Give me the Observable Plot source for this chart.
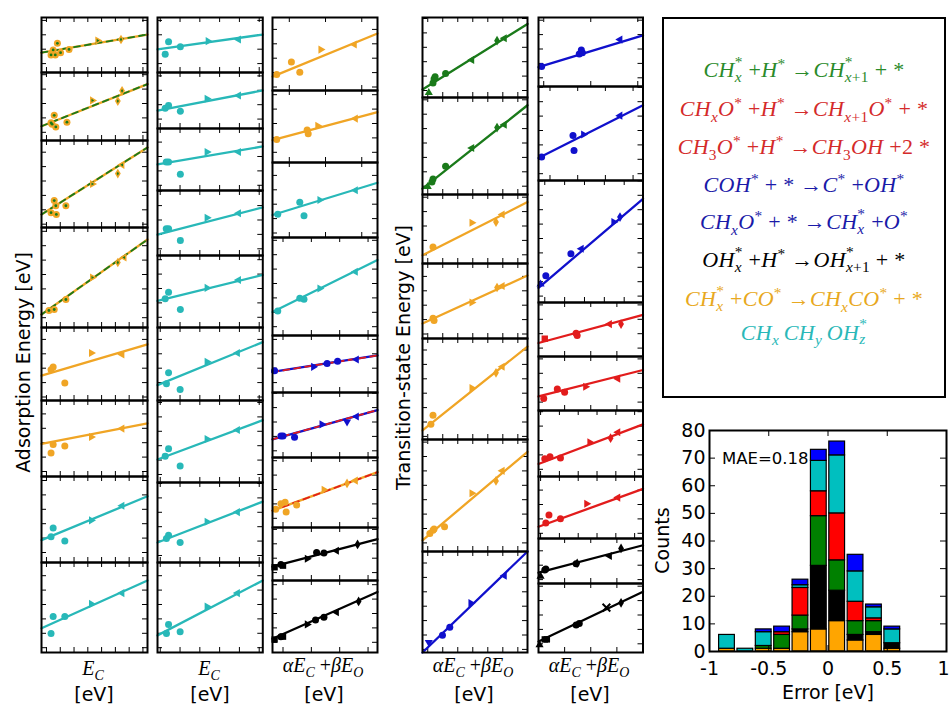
<!DOCTYPE html>
<html><head><meta charset="utf-8">
<script src="https://cdn.jsdelivr.net/npm/d3@7"></script>
<script src="https://cdn.jsdelivr.net/npm/@observablehq/plot@0.6"></script>
<style>
body{margin:0;background:#fff;}
#root{position:relative;width:950px;height:706px;overflow:hidden;font-family:"DejaVu Sans",sans-serif;background:#fff;}
.leg{position:absolute;left:662px;top:17px;width:280px;height:377px;border:2px solid #000;}
.eq{position:absolute;left:0;width:950px;text-align:center;font-family:"Liberation Serif",serif;font-style:italic;font-size:22px;letter-spacing:0.3px;white-space:nowrap;}
.eq .u{font-style:normal;}
.st{display:inline-block;vertical-align:-0.3em;line-height:1;font-size:0.7em;text-align:left;}
.st>span{display:block;}
.eq sub,.eq sup{font-size:0.7em;}
.math{font-family:"Liberation Serif",serif;font-style:italic;}
.math .u{font-style:normal;}
</style></head><body><div id="root"></div>
<script>
// ---------------- DATA ----------------
// reaction groups
const groupNames = ["CH", "CHO", "COH", "CHxO", "OH", "CO", "CCO"];
// Adsorption energies vs E_C, column 1 (fit line: value at left / right edge, points [x, y, marker])
const adsEC1 = [
 {s:"CO", d:"CH", f:[0.36,0.69], p:[[0.09,0.32,"o"],[0.11,0.41,"o"],[0.15,0.53,"o"],[0.13,0.32,"o"],[0.18,0.36,"o"],[0.26,0.42,"o"],[0.53,0.58,">"],[0.75,0.60,"d"]]},
 {s:"CO", d:"CH", f:[0.21,0.83], p:[[0.09,0.26,"o"],[0.12,0.37,"o"],[0.135,0.20,"o"],[0.10,0.24,"o"],[0.24,0.27,"o"],[0.48,0.59,">"],[0.72,0.58,"d"],[0.76,0.73,"d"]]},
 {s:"CO", d:"CH", f:[0.15,0.92], p:[[0.09,0.17,"o"],[0.12,0.31,"o"],[0.135,0.25,"o"],[0.14,0.15,"o"],[0.23,0.25,"o"],[0.48,0.50,">"],[0.72,0.62,"d"],[0.76,0.72,"<"]]},
 {s:"CO", d:"CH", f:[0.13,0.88], p:[[0.07,0.17,"o"],[0.12,0.18,"o"],[0.23,0.28,"o"],[0.48,0.50,">"],[0.72,0.65,"d"],[0.78,0.70,"<"]]},
 {s:"CO", f:[0.34,0.77], p:[[0.09,0.42,"o"],[0.11,0.46,"o"],[0.22,0.24,"o"],[0.47,0.65,">"],[0.76,0.63,"<"]]},
 {s:"CO", f:[0.43,0.70], p:[[0.09,0.31,"o"],[0.11,0.42,"o"],[0.22,0.40,"o"],[0.47,0.52,">"],[0.76,0.63,"<"]]},
 {s:"CCO", f:[0.26,0.77], p:[[0.09,0.30,"o"],[0.11,0.40,"o"],[0.22,0.25,"o"],[0.47,0.49,">"],[0.76,0.66,"<"]]},
 {s:"CCO", f:[0.27,0.80], p:[[0.09,0.21,"o"],[0.11,0.40,"o"],[0.22,0.40,"o"],[0.47,0.54,">"],[0.76,0.66,"<"]]}
];
// Adsorption energies vs E_C, column 2
const adsEC2 = [
 {s:"CCO", f:[0.42,0.69], p:[[0.105,0.56,"o"],[0.073,0.33,"o"],[0.217,0.47,"o"],[0.48,0.57,">"],[0.77,0.60,"<"]]},
 {s:"CCO", f:[0.32,0.68], p:[[0.073,0.36,"o"],[0.105,0.41,"o"],[0.217,0.31,"o"],[0.47,0.53,">"],[0.77,0.59,"<"]]},
 {s:"CCO", f:[0.42,0.71], p:[[0.083,0.46,"o"],[0.105,0.46,"o"],[0.217,0.26,"o"],[0.47,0.62,">"],[0.77,0.62,"<"]]},
 {s:"CCO", f:[0.32,0.74], p:[[0.083,0.41,"o"],[0.105,0.41,"o"],[0.217,0.23,"o"],[0.47,0.58,">"],[0.77,0.65,"<"]]},
 {s:"CCO", f:[0.37,0.73], p:[[0.073,0.40,"o"],[0.105,0.49,"o"],[0.217,0.25,"o"],[0.47,0.55,">"],[0.77,0.66,"<"]]},
 {s:"CCO", f:[0.21,0.80], p:[[0.085,0.23,"o"],[0.105,0.38,"o"],[0.215,0.15,"o"],[0.47,0.53,">"],[0.76,0.65,"<"]]},
 {s:"CCO", f:[0.28,0.76], p:[[0.073,0.32,"o"],[0.105,0.41,"o"],[0.215,0.20,"o"],[0.47,0.53,">"],[0.76,0.64,"<"]]},
 {s:"CCO", f:[0.25,0.76], p:[[0.085,0.30,"o"],[0.105,0.34,"o"],[0.215,0.25,"o"],[0.47,0.51,">"],[0.76,0.63,"<"]]},
 {s:"CCO", f:[0.19,0.80], p:[[0.085,0.21,"o"],[0.105,0.31,"o"],[0.215,0.23,"o"],[0.47,0.51,">"],[0.76,0.66,"<"]]}
];
// Adsorption energies vs alpha*E_C + beta*E_O
const adsMix = [
 {s:"CO", f:[0.19,0.78], p:[[0.04,0.22,"o"],[0.18,0.39,"o"],[0.26,0.25,"o"],[0.46,0.56,">"],[0.78,0.63,"<"]]},
 {s:"CO", f:[0.31,0.70], p:[[0.04,0.32,"o"],[0.33,0.45,"o"],[0.34,0.40,"o"],[0.43,0.51,">"],[0.79,0.61,"<"]]},
 {s:"CCO", f:[0.30,0.73], p:[[0.05,0.31,"o"],[0.26,0.47,"o"],[0.30,0.29,"o"],[0.45,0.50,">"],[0.79,0.63,"<"]]},
 {s:"CCO", f:[0.24,0.77], p:[[0.05,0.25,"o"],[0.26,0.38,"o"],[0.30,0.37,"o"],[0.45,0.48,">"],[0.79,0.65,"<"]]},
 {s:"CHxO", d:"CHO", f:[0.36,0.65], p:[[0.02,0.38,"o"],[0.39,0.45,">"],[0.52,0.51,"o"],[0.62,0.55,"o"],[0.80,0.58,"<"]]},
 {s:"CHxO", d:"CHO", f:[0.28,0.73], p:[[0.08,0.33,"o"],[0.10,0.33,"o"],[0.21,0.31,"o"],[0.47,0.51,">"],[0.71,0.55,"v"],[0.80,0.63,"<"]]},
 {s:"CO", d:"CHO", f:[0.24,0.79], p:[[0.03,0.26,"o"],[0.08,0.34,"o"],[0.12,0.36,"o"],[0.13,0.22,"o"],[0.23,0.32,"o"],[0.49,0.54,">"],[0.71,0.63,"d"],[0.79,0.67,"<"]]},
 {s:"OH", f:[0.26,0.78], p:[[0.02,0.25,"s"],[0.08,0.30,"o"],[0.10,0.28,"s"],[0.33,0.41,">"],[0.42,0.53,"o"],[0.49,0.52,"o"],[0.61,0.56,"<"],[0.81,0.68,"d"]]},
 {s:"OH", f:[0.19,0.84], p:[[0.02,0.18,"s"],[0.08,0.22,"o"],[0.10,0.22,"s"],[0.33,0.39,">"],[0.41,0.45,"o"],[0.49,0.49,"o"],[0.61,0.56,"<"],[0.82,0.71,"d"]]}
];
// Transition-state energies, column 1
const tsMix1 = [
 {s:"CH", f:[0.10,0.92], p:[[0.06,0.06,"^"],[0.10,0.18,"o"],[0.11,0.23,"o"],[0.12,0.26,"o"],[0.22,0.30,"o"],[0.47,0.47,"<"],[0.71,0.71,"d"],[0.78,0.74,"<"]]},
 {s:"CH", f:[0.06,0.92], p:[[0.05,0.08,"^"],[0.09,0.13,"o"],[0.10,0.16,"o"],[0.22,0.29,"o"],[0.47,0.48,"<"],[0.71,0.69,"d"],[0.78,0.72,"<"]]},
 {s:"CO", f:[0.12,0.89], p:[[0.10,0.24,"o"],[0.47,0.59,">"],[0.70,0.60,"d"],[0.76,0.71,"<"]]},
 {s:"CO", f:[0.20,0.84], p:[[0.10,0.27,"o"],[0.11,0.24,"o"],[0.47,0.48,">"],[0.71,0.68,"d"],[0.76,0.70,"<"]]},
 {s:"CO", f:[0.09,0.92], p:[[0.08,0.15,"o"],[0.10,0.24,"o"],[0.47,0.51,">"],[0.70,0.66,"d"],[0.76,0.72,"<"]]},
 {s:"CO", f:[0.10,0.89], p:[[0.07,0.16,"o"],[0.10,0.19,"o"],[0.11,0.20,"o"],[0.21,0.22,"o"],[0.47,0.52,">"],[0.70,0.63,"d"],[0.76,0.72,"<"]]},
 {s:"COH", f:[0.0,1.0], p:[[0.06,0.10,"v"],[0.19,0.17,"o"],[0.26,0.25,"o"],[0.46,0.49,">"],[0.78,0.76,"<"]]}
];
// Transition-state energies, column 2
const tsMix2 = [
 {s:"COH", f:[0.28,0.74], p:[[0.03,0.29,"o"],[0.39,0.47,"o"],[0.41,0.53,"o"],[0.42,0.49,"o"],[0.78,0.68,"<"]]},
 {s:"COH", f:[0.24,0.80], p:[[0.03,0.25,"o"],[0.33,0.48,"o"],[0.34,0.32,"o"],[0.43,0.49,">"],[0.78,0.69,"<"]]},
 {s:"COH", f:[0.12,0.85], p:[[0.02,0.15,"^"],[0.07,0.22,"o"],[0.31,0.40,"o"],[0.41,0.44,"<"],[0.72,0.66,">"],[0.78,0.70,"d"]]},
 {s:"CHO", f:[0.25,0.77], p:[[0.06,0.33,"s"],[0.36,0.43,"o"],[0.37,0.39,"o"],[0.68,0.60,"<"],[0.79,0.60,"d"]]},
 {s:"CHO", f:[0.26,0.75], p:[[0.05,0.22,"o"],[0.18,0.40,"o"],[0.25,0.34,"o"],[0.45,0.44,">"],[0.76,0.59,"<"]]},
 {s:"CHO", f:[0.19,0.79], p:[[0.06,0.27,"o"],[0.11,0.30,"o"],[0.21,0.28,"o"],[0.49,0.52,">"],[0.69,0.58,"d"],[0.76,0.67,"<"]]},
 {s:"CHO", f:[0.19,0.80], p:[[0.07,0.25,"o"],[0.10,0.38,"o"],[0.21,0.32,"o"],[0.46,0.56,">"],[0.76,0.66,"<"]]},
 {s:"OH", f:[0.24,0.85], p:[[0.02,0.16,"^"],[0.06,0.30,"o"],[0.07,0.32,"o"],[0.36,0.44,"o"],[0.37,0.45,"d"],[0.68,0.61,"<"],[0.79,0.78,"d"]]},
 {s:"OH", f:[0.16,0.88], p:[[0.01,0.11,"^"],[0.06,0.19,"s"],[0.08,0.19,"s"],[0.36,0.40,"o"],[0.39,0.42,"o"],[0.65,0.65,"x"],[0.79,0.72,"d"]]}
];
// Error histogram
const histEdges = [-0.93,-0.775,-0.62,-0.465,-0.31,-0.155,0,0.155,0.31,0.465,0.62];
const histSeriesNames = ["CO","OH","CH","CHO","CCO","COH"];
const histOrange = [1,0,1,1,7,8,11,4,6,1];
const histBlack  = [0,0,0,0,1,23,11,2,1,2];
const histGreen  = [0,0,1,5,5,18,11,5,4,0];
const histRed    = [0,0,0,1,10,9,17,7,1,0];
const histCyan   = [5,1,5,0,1,11,21,11,4,5];
const histBlue   = [0,0,1,2,2,4,5,6,1,1];
const histTicksX = [-1,-0.5,0,0.5,1];
const histTicksY = [0,10,20,30,40,50,60,70,80];
const maeText = "MAE=0.18";

// ---------------- STYLE / LAYOUT ----------------
const lineColor = {CH:"#1a7a1a", CHO:"#e21c1c", COH:"#1010cc", CHxO:"#1010cc", OH:"#000000", CO:"#f0a525", CCO:"#28b8b8"};
const histColor = {CO:"#ffa500", OH:"#000000", CH:"#008000", CHO:"#ff0000", CCO:"#00bfbf", COH:"#0000ff"};
const columns = [
 {data: adsEC1, left:40.7, right:146.7, edges:[17,72,140,227,327,400,476,562,652], xt: Array(8).fill([0.047,0.13])},
 {data: adsEC2, left:156.7, right:262, edges:[17,72,128,190,255,327,400,482,562,652], xt: Array(9).fill([0.026,0.188])},
 {data: adsMix, left:272.3, right:377.3, edges:[17,90,162,237,335,392,457,527,580,652], xt:[[0.16,0.345],[0.16,0.345],[0.16,0.345],[0.1,0.27],[0.1,0.27],[0.1,0.27],[0.1,0.27],[0.1,0.27],[0.1,0.27]]},
 {data: tsMix1, left:422, right:527, edges:[17,97,194,263,338,439,551,652], xt: Array(7).fill([0.05,0.143])},
 {data: tsMix2, left:537.5, right:642, edges:[17,86,180,302,356,410,476,538,583,652], xt:[[0.05,0.45],[0.11,0.265],[0.06,0.19],[0,0.25],[0,0.25],[0.02,0.18],[0.02,0.18],[0,0.25],[0,0.25]]}
];

const root = document.getElementById("root");
function place(el, left, top){ el.style.position="absolute"; el.style.left=left+"px"; el.style.top=top+"px"; root.appendChild(el); }

// marker symbols
function triSym(angle){
  const a = angle*Math.PI/180, c = Math.cos(a), s = Math.sin(a);
  return {draw(ctx, size){
    const r = Math.sqrt(size/Math.PI)*1.3;
    [[0,-r],[r*0.866,r*0.5],[-r*0.866,r*0.5]].forEach(([x,y],i)=>{
      const X = x*c - y*s, Y = x*s + y*c; if(i) ctx.lineTo(X,Y); else ctx.moveTo(X,Y);});
    ctx.closePath();
  }};
}
const thinDiamond = {draw(ctx,size){const r=Math.sqrt(size/Math.PI)*1.35; ctx.moveTo(0,-r);ctx.lineTo(r*0.6,0);ctx.lineTo(0,r);ctx.lineTo(-r*0.6,0);ctx.closePath();}};
const symbols = {"o":"circle", ">":triSym(90), "<":triSym(-90), "^":triSym(0), "v":triSym(180), "d":thinDiamond, "s":"square", "x":"times"};

const M = 4;
function drawPanel(spec, left, top, w, h, xt){
  const xTicks = d3.range(xt[0], 1.0001, xt[1]);
  const stepPx = 14.4;
  const offPx = (h % stepPx)/2 + 3;
  const yTicks = d3.range(offPx/h, 0.999, stepPx/h);
  const col = lineColor[spec.s];
  const fit = [{x:0, y:spec.f[0]}, {x:1, y:spec.f[1]}];
  const pts = spec.p.map(([x,y,m]) => ({x, y, m}));
  const tk = {stroke:"#000", strokeWidth:1};
  const marks = [
    Plot.tickX(xTicks, {x:d=>d, insetTop:h-5, ...tk}),
    Plot.tickX(xTicks, {x:d=>d, insetBottom:h-5, ...tk}),
    Plot.tickY(yTicks, {y:d=>d, insetRight:w-5, ...tk}),
    Plot.tickY(yTicks, {y:d=>d, insetLeft:w-5, ...tk}),
    Plot.line(fit, {x:"x", y:"y", stroke:col, strokeWidth:2.3})
  ];
  if (spec.d) marks.push(Plot.line(fit, {x:"x", y:"y", stroke:lineColor[spec.d], strokeWidth:1.8, strokeDasharray:"6,5"}));
  for (const k of Object.keys(symbols)) {
    const sub = pts.filter(d => d.m === k);
    if (!sub.length) continue;
    marks.push(Plot.dot(sub, {x:"x", y:"y", r: k==="o"?3.5:3.6, symbol: symbols[k], fill: col, stroke: k==="x"?col:null, strokeWidth: k==="x"?2:null}));
    if (spec.d === "CH") marks.push(Plot.dot(sub, {x:"x", y:"y", r:1.4, symbol: symbols[k], fill: lineColor.CH}));
  }
  marks.push(Plot.frame({stroke:"#000", strokeWidth:2}));
  const svg = Plot.plot({width:w+2*M, height:h+2*M, margin:M,
    x:{domain:[0,1], axis:null}, y:{domain:[0,1], axis:null},
    style:{background:"transparent", overflow:"visible"}, marks});
  place(svg, left-M, top-M);
}

columns.forEach(c => {
  c.data.forEach((spec, i) => {
    const top = c.edges[i], bot = c.edges[i+1];
    drawPanel(spec, c.left, top, c.right-c.left, bot-top, c.xt[i]);
  });
});

// histogram
const histArrays = {CO:histOrange, OH:histBlack, CH:histGreen, CHO:histRed, CCO:histCyan, COH:histBlue};
const histRows = [];
histEdges.slice(0,-1).forEach((e, i) => {
  histSeriesNames.forEach(s => {
    const n = histArrays[s][i];
    if (n > 0) histRows.push({x1:e, x2:histEdges[i+1], n, s});
  });
});
{
  const W = 300, H = 291, mL = 59, mR = 4, mT = 15, mB = 55;
  const pw = W-mL-mR, ph = H-mT-mB;
  const tk = {stroke:"#000", strokeWidth:1};
  const svg = Plot.plot({width:W, height:H, marginLeft:mL, marginRight:mR, marginTop:mT, marginBottom:mB,
    x:{domain:[-1,1]}, y:{domain:[0,80]},
    color:{domain:histSeriesNames, range:histSeriesNames.map(s=>histColor[s])},
    style:{background:"transparent", overflow:"visible", fontSize:"19px", fontFamily:"DejaVu Sans"},
    marks:[
      Plot.rectY(histRows, {x1:"x1", x2:"x2", y:"n", fill:"s", stroke:"#000", strokeWidth:1.2, insetLeft:1.3, insetRight:1.3}),
      Plot.tickX(histTicksX, {x:d=>d, insetTop:ph-6, ...tk}),
      Plot.tickX(histTicksX, {x:d=>d, insetBottom:ph-6, ...tk}),
      Plot.tickY(histTicksY, {y:d=>d, insetRight:pw-6, ...tk}),
      Plot.tickY(histTicksY, {y:d=>d, insetLeft:pw-6, ...tk}),
      Plot.axisX({ticks:histTicksX.slice(0,-1), tickSize:0, tickPadding:10, tickFormat:d=>String(d), label:null}),
      Plot.axisX({ticks:histTicksX.slice(-1), tickSize:0, tickPadding:10, tickFormat:d=>String(d), label:null, textAnchor:"end", dx:3}),
      Plot.axisY({ticks:histTicksY, tickSize:0, tickPadding:4, tickFormat:d=>String(d), label:null}),
      Plot.frame({stroke:"#000", strokeWidth:2})
    ]});
  place(svg, 650, 415);
}

// ---------------- TEXT ----------------
function label(html, cx, cy, size, rot, cls, color){
  const d = document.createElement("div");
  d.innerHTML = html;
  if (cls) d.className = cls;
  const hh = Math.round(size*1.1);
  Object.assign(d.style, {position:"absolute", left:(cx-200)+"px", top:(cy-hh/2)+"px", width:"400px",
    height:hh+"px", lineHeight:hh+"px", textAlign:"center", fontSize:size+"px",
    color: color || "#000", whiteSpace:"nowrap", transform: rot ? `rotate(${rot}deg)` : "none"});
  root.appendChild(d);
}
label("Adsorption Energy [eV]", 23, 362, 19, -90);
label("Transition-state Energy [eV]", 403, 357, 19, -90);
label("Counts", 662, 540, 19, -90);
label("Error [eV]", 828, 692, 19, 0);
const ecLab = 'E<sub style="font-size:0.7em;line-height:0">C</sub>';
const mixLab = '&alpha;E<sub style="font-size:0.7em;line-height:0">C</sub><span class="u"> +</span>&beta;E<sub style="font-size:0.7em;line-height:0">O</sub>';
[[93,ecLab],[209,ecLab],[323,mixLab],[473,mixLab],[589,mixLab]].forEach(([cx,h],i)=>{
  label(h, cx, i<2?668:665, 20, 0, "math");
  label("[eV]", cx+1, 694.5, 19, 0);
});
// MAE
{
  const d = document.createElement("div");
  d.textContent = maeText;
  Object.assign(d.style, {position:"absolute", left:"722px", top:"448px", fontSize:"16.5px", lineHeight:"22px"});
  root.appendChild(d);
}
// legend
const box = document.createElement("div"); box.className = "leg"; root.appendChild(box);
const st = (a,b) => `<span class="st"><span class="u">${a}</span><span>${b}</span></span>`;
const U = t => `<span class="u">${t}</span>`;
const eqs = [
 [`CH${st("*","x")}${U(" +")}H<sup class="u">*</sup>${U(" &rarr;")}CH${st("*","x<span class='u'>+1</span>")}${U(" + *")}`, "#2a8a2a", 68],
 [`CH<sub>x</sub>O<sup class="u">*</sup>${U(" +")}H<sup class="u">*</sup>${U(" &rarr;")}CH<sub>x<span class="u">+1</span></sub>O<sup class="u">*</sup>${U(" + *")}`, "#d42a2a", 107],
 [`CH<sub class="u">3</sub>O<sup class="u">*</sup>${U(" +")}H<sup class="u">*</sup>${U(" &rarr;")}CH<sub class="u">3</sub>OH${U(" +2 *")}`, "#d42a2a", 145],
 [`COH<sup class="u">*</sup>${U(" + * &rarr;")}C<sup class="u">*</sup>${U(" +")}OH<sup class="u">*</sup>`, "#1a1aa8", 183],
 [`CH<sub>x</sub>O<sup class="u">*</sup>${U(" + * &rarr;")}CH${st("*","x")}${U(" +")}O<sup class="u">*</sup>`, "#1a1aa8", 220],
 [`OH${st("*","x")}${U(" +")}H<sup class="u">*</sup>${U(" &rarr;")}OH${st("*","x<span class='u'>+1</span>")}${U(" + *")}`, "#000000", 258],
 [`CH${st("*","x")}${U(" +")}CO<sup class="u">*</sup>${U(" &rarr;")}CH<sub>x</sub>CO<sup class="u">*</sup>${U(" + *")}`, "#e8a820", 297],
 [`CH<sub>x</sub>&thinsp;CH<sub>y</sub>&thinsp;OH${st("*","z")}`, "#2ab8b8", 335]
];
eqs.forEach(([h, c, y]) => {
  const d = document.createElement("div"); d.className = "eq"; d.innerHTML = h;
  Object.assign(d.style, {left:(804-475)+"px", top:(y-19)+"px", lineHeight:"30px", color:c});
  root.appendChild(d);
});
</script></body></html>
